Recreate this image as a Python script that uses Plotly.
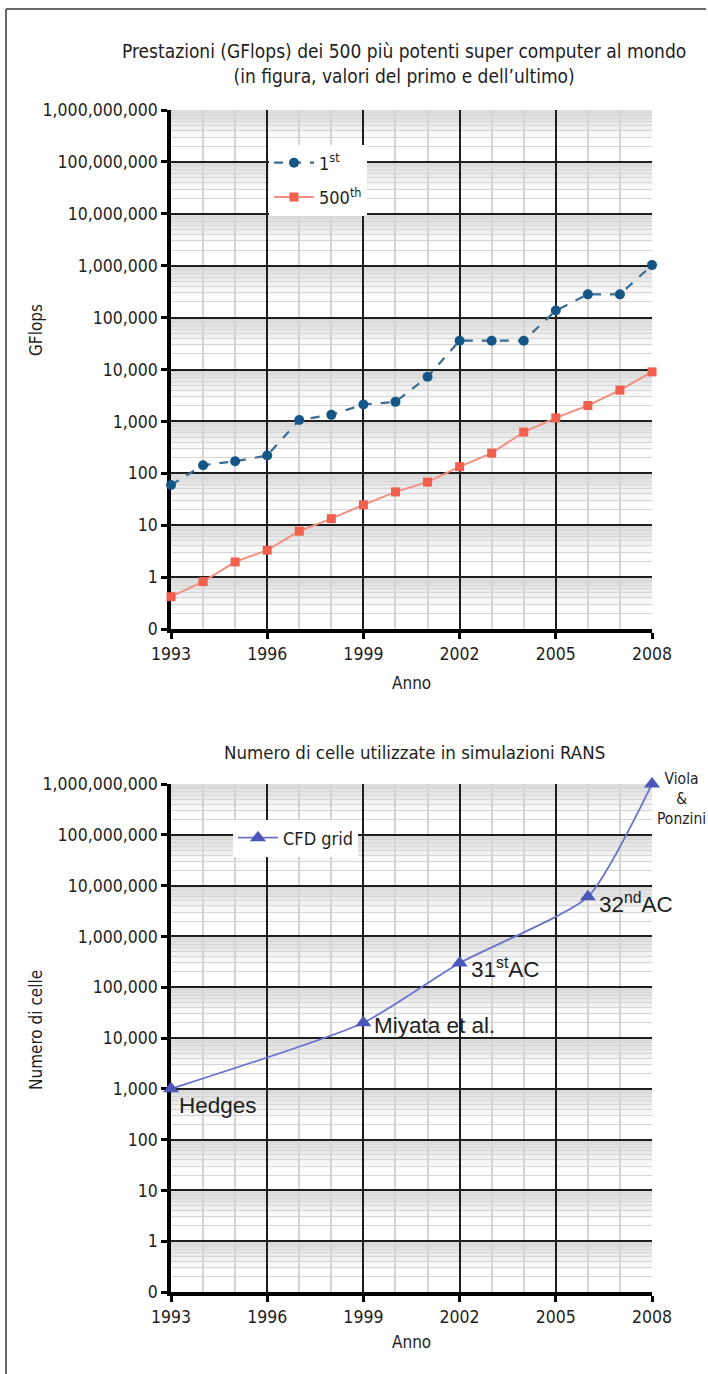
import math
import plotly.graph_objects as go

# ---------------- data ----------------
years = [1993, 1994, 1995, 1996, 1997, 1998, 1999, 2000, 2001, 2002, 2003, 2004, 2005, 2006, 2007, 2008]
first_gflops = [59.7, 143.4, 170.4, 220.4, 1068, 1338, 2121, 2379, 7226, 35860, 35860, 35860, 136800, 280600, 280600, 1026000]
last_gflops = [0.42, 0.82, 1.96, 3.3, 7.67, 13.4, 24.7, 43.8, 67.8, 134, 245, 624, 1166, 2026, 4005, 9000]

cfd_years = [1993, 1999, 2002, 2006, 2008]
cfd_cells = [1000, 20000, 300000, 6000000, 1000000000]
cfd_labels = ["Hedges", "Miyata et al.", "31<sup>st</sup>AC", "32<sup>nd</sup>AC", "Viola<br>&<br>Ponzini"]

y_tick_vals = [0.1, 1, 10, 100, 1000, 10000, 100000, 1000000, 10000000, 100000000, 1000000000]
y_tick_text = ["0", "1", "10", "100", "1,000", "10,000", "100,000", "1,000,000",
               "10,000,000", "100,000,000", "1,000,000,000"]
x_tick_vals = [1993, 1996, 1999, 2002, 2005, 2008]

title_top = "Prestazioni (GFlops) dei 500 più potenti super computer al mondo<br>(in figura, valori del primo e dell’ultimo)"
title_bottom = "Numero di celle utilizzate in simulazioni RANS"

# ---------------- styling ----------------
W, H = 708, 1374
NARROW = "DejaVu Sans Condensed, Liberation Sans Narrow, Arial Narrow, sans-serif"
ARIAL = "Liberation Sans, Arial, sans-serif"
TXT = "#1e1e1e"


def px_x(p):
    return p / W


def px_y(p):
    return 1 - p / H


fig = go.Figure()

fig.add_trace(go.Scatter(
    x=years, y=first_gflops, name="1<sup>st</sup>", mode="lines+markers", legendgroup="a",
    line=dict(color="#3b6c93", width=2.2, dash="dash"),
    marker=dict(color="#155687", size=10, symbol="circle"),
    cliponaxis=False, xaxis="x", yaxis="y", legend="legend"))
fig.add_trace(go.Scatter(
    x=years, y=last_gflops, name="500<sup>th</sup>", mode="lines+markers", legendgroup="b",
    line=dict(color="#f58f80", width=2),
    marker=dict(color="#f0604c", size=9, symbol="square"),
    cliponaxis=False, xaxis="x", yaxis="y", legend="legend"))
fig.add_trace(go.Scatter(
    x=cfd_years, y=cfd_cells, name="CFD grid", mode="lines+markers",
    line=dict(color="#6b72cc", width=1.8, shape="spline", smoothing=0.55),
    marker=dict(color="#4c55b8", size=14, symbol="triangle-up"),
    cliponaxis=False, xaxis="x2", yaxis="y2", legend="legend2"))

TICK = 17.5
xaxis_common = dict(
    range=[1993, 2008], tickvals=x_tick_vals, ticks="outside", ticklen=6, tickwidth=2.5,
    tickcolor="#000", showline=True, linecolor="#000", linewidth=3.5,
    showgrid=True, gridcolor="#1e1e1e", gridwidth=1.6, zeroline=False,
    minor=dict(dtick=1, tick0=1993, showgrid=True, gridcolor="#d4d4d4", gridwidth=1.5, ticks=""),
    tickfont=dict(family=NARROW, size=TICK, color=TXT), layer="below traces")
yaxis_common = dict(
    type="log", range=[-1, 9], tickvals=y_tick_vals, ticktext=y_tick_text,
    ticks="outside", ticklen=6, tickwidth=2.5, tickcolor="#000",
    showline=True, linecolor="#000", linewidth=3.5,
    showgrid=True, gridcolor="#1e1e1e", gridwidth=1.6, zeroline=False,
    minor=dict(dtick="D1", showgrid=True, gridcolor="#d6d6d6", gridwidth=1, ticks=""),
    tickfont=dict(family=NARROW, size=TICK, color=TXT), layer="below traces")

xd = [px_x(171), px_x(652)]
fig.update_layout(
    width=W, height=H, margin=dict(l=0, r=0, t=0, b=0, autoexpand=False),
    paper_bgcolor="white", plot_bgcolor="white",
    xaxis=dict(domain=xd, anchor="y", **xaxis_common),
    yaxis=dict(domain=[px_y(629), px_y(110)], anchor="x", **yaxis_common),
    xaxis2=dict(domain=xd, anchor="y2", **xaxis_common),
    yaxis2=dict(domain=[px_y(1292), px_y(784)], anchor="x2", **yaxis_common),
    legend=dict(x=px_x(269), y=px_y(180), xanchor="left", yanchor="middle",
                bgcolor="white", borderwidth=0, tracegroupgap=8,
                font=dict(family=NARROW, size=18, color=TXT), itemwidth=40),
    legend2=dict(x=px_x(233), y=px_y(838), xanchor="left", yanchor="middle",
                 bgcolor="white", borderwidth=0,
                 font=dict(family=NARROW, size=18, color=TXT), itemwidth=40),
    showlegend=True,
)

# gray gradient bands under the major gridlines (top of each decade)
shapes = []
for xr, yr in (("x", "y"), ("x2", "y2")):
    for n in range(-1, 9):
        top = 10 ** (n + 1)
        for f in (0.1, 0.2, 0.3, 0.42, 0.55):
            shapes.append(dict(type="rect", xref=xr, yref=yr, x0=1993, x1=2008,
                               y0=10 ** (n + 1 - f), y1=top, layer="below",
                               fillcolor="rgba(140,140,140,0.06)", line=dict(width=0)))
# page frame (top and left rules)
shapes.append(dict(type="line", xref="paper", yref="paper", x0=px_x(6), x1=px_x(706),
                   y0=px_y(9), y1=px_y(9), line=dict(color="#3a3a3a", width=1.5)))
shapes.append(dict(type="line", xref="paper", yref="paper", x0=px_x(6), x1=px_x(6),
                   y0=px_y(9), y1=0, line=dict(color="#3a3a3a", width=1.5)))
fig.update_layout(shapes=shapes)

ann = []


def paper_text(text, x, y, size, angle=0):
    return dict(text=text, x=px_x(x), y=px_y(y), xref="paper", yref="paper",
                xanchor="center", yanchor="middle", showarrow=False, textangle=angle,
                align="center", font=dict(family=NARROW, size=size, color=TXT))


# titles
ann.append(paper_text(title_top, 404, 64, 19))
ann.append(paper_text(title_bottom, 414, 752, 18.5))
# axis titles
ann.append(paper_text("Anno", 411, 683, 17))
ann.append(paper_text("Anno", 411, 1342, 17))
ann.append(paper_text("GFlops", 36, 330, 17, -90))
ann.append(paper_text("Numero di celle", 36, 1030, 17, -90))

# point labels in the bottom chart
label_offsets = [(6, -17), (9, -3), (9, -5), (9, -6), (29, -15)]
for xv, yv, lab, (dx, dy) in zip(cfd_years, cfd_cells, cfd_labels, label_offsets):
    last = lab.startswith("Viola")
    ann.append(dict(text=lab, x=xv, y=math.log10(yv), xref="x2", yref="y2",
                    showarrow=False, xanchor="center" if last else "left",
                    yanchor="middle", xshift=dx, yshift=dy, align="center",
                    font=dict(family=NARROW if last else ARIAL, size=15.5 if last else 22.5, color=TXT)))
fig.update_layout(annotations=ann)

fig.write_html("out.html", config={"displayModeBar": False},
               post_script="document.body.style.margin='0';document.body.style.overflow='hidden';")
